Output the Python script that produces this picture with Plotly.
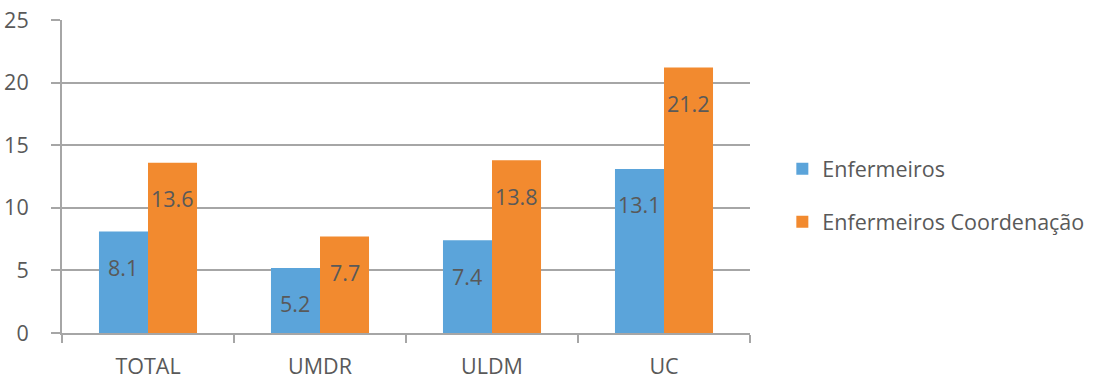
import plotly.graph_objects as go

categories = ["TOTAL", "UMDR", "ULDM", "UC"]
enfermeiros = [8.1, 5.2, 7.4, 13.1]
enfermeiros_coord = [13.6, 7.7, 13.8, 21.2]
series_names = ["Enfermeiros", "Enfermeiros Coordenação"]
y_ticks = [0, 5, 10, 15, 20, 25]

BLUE = "#5BA4DA"
ORANGE = "#F28A2F"
TEXT = "#595959"
GRID = "#A6A6A6"
FONT = "Open Sans"
FS = 21.5

fig = go.Figure()
for name, vals, color in [(series_names[0], enfermeiros, BLUE),
                          (series_names[1], enfermeiros_coord, ORANGE)]:
    fig.add_trace(go.Bar(
        x=categories, y=vals, name=name, legendgroup=name,
        marker=dict(color=color, line=dict(width=0)),
    ))

# value labels placed a fixed distance below each bar top
offsets = [-0.143, 0.143]
for off, vals in zip(offsets, [enfermeiros, enfermeiros_coord]):
    for i, v in enumerate(vals):
        fig.add_annotation(
            x=i + off, y=v, xref="x", yref="y",
            text=f"{v:.1f}", showarrow=False,
            yanchor="middle", yshift=-36,
            font=dict(family=FONT, size=FS, color=TEXT),
        )

fig.update_layout(
    width=1095, height=381,
    margin=dict(l=62, r=345, t=20, b=48, autoexpand=False),
    paper_bgcolor="white", plot_bgcolor="white",
    barmode="group", bargap=0.43, bargroupgap=0,
    font=dict(family=FONT, size=FS, color=TEXT),
    showlegend=True,
    legend=dict(
        x=1.047, y=0.44, xanchor="left", yanchor="middle",
        font=dict(family=FONT, size=FS, color=TEXT),
        tracegroupgap=22, itemsizing="constant",
        bgcolor="rgba(0,0,0,0)",
    ),
)

fig.update_xaxes(
    type="category", range=[-0.5, 3.5], automargin=False,
    tickson="boundaries", ticks="outside", ticklen=8, tickwidth=2,
    tickcolor=GRID, showgrid=False,
    showline=True, linecolor=GRID, linewidth=2,
    tickfont=dict(family=FONT, size=FS, color=TEXT),
    ticklabelstandoff=13,
)
fig.update_yaxes(
    range=[0, 25], tickvals=y_ticks, automargin=False,
    ticks="outside", ticklen=9, tickwidth=2, tickcolor=GRID,
    showgrid=True, gridcolor=GRID, gridwidth=2,
    zeroline=False,
    showline=True, linecolor=GRID, linewidth=2,
    tickfont=dict(family=FONT, size=FS, color=TEXT),
    ticklabelstandoff=18,
)

fig.write_html("out.html")
